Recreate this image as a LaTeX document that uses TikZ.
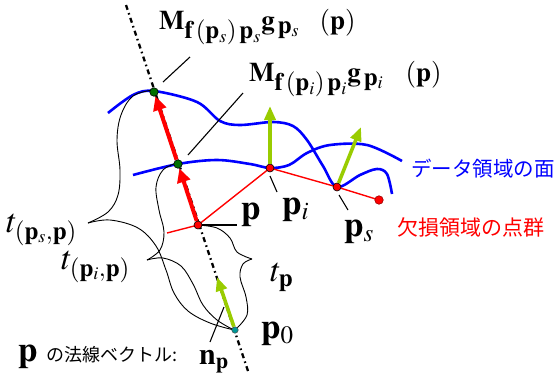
\documentclass[tikz,border=0pt]{standalone}
\usepackage{mathptmx}
\usepackage[no-math]{fontspec}
\newfontfamily\jpfont{Noto Sans CJK JP}
\DeclareMathSizes{27}{27}{25}{18}
\DeclareMathSizes{35}{35}{25}{18}
\DeclareMathSizes{34}{34}{25}{18}
\usetikzlibrary{arrows.meta}
\pgfdeclarelayer{bg}
\pgfsetlayers{bg,main}
\definecolor{dblue}{RGB}{0,0,255}
\definecolor{ygreen}{RGB}{153,204,0}
\definecolor{dgreen}{RGB}{0,110,0}
\definecolor{tealdot}{RGB}{0,150,150}
\begin{document}
\begin{tikzpicture}[x=1pt,y=-1pt,
  gdot/.style={circle,draw=black,fill=dgreen,inner sep=0pt,minimum size=8.5pt,line width=0.6pt},
  rdot/.style={circle,draw=black,fill=red,inner sep=0pt,minimum size=8pt,line width=0.6pt},
  edot/.style={circle,draw=red!60!black,fill=red,inner sep=0pt,minimum size=8.5pt,line width=0.6pt},
  tdot/.style={circle,draw=black!70,fill=tealdot,inner sep=0pt,minimum size=6.5pt,line width=0.5pt},
  bluec/.style={draw=dblue,line width=2.6pt},
  redl/.style={draw=red,line width=1.4pt},
  bracec/.style={draw=black,line width=0.9pt},
  leader/.style={draw=black,line width=1.1pt},
  dashdotl/.style={draw=black,line width=2.3pt,dash pattern=on 5pt off 3.5pt on 1.6pt off 3.5pt},
  redarr/.style={draw=red,line width=4pt,-{Triangle[length=14pt,width=13pt]}},
  grarr/.style={draw=ygreen,line width=3.6pt,-{Triangle[length=14pt,width=11pt]}},
  lab/.style={inner sep=0pt,font=\fontsize{27}{30}\selectfont},
  plab/.style={inner sep=0pt,font=\fontsize{35}{38}\selectfont},
  tlab/.style={inner sep=0pt,font=\fontsize{34}{38}\selectfont},
  jlab/.style={inner sep=0pt,font=\jpfont\fontsize{20.5}{24}\selectfont}
]
\useasboundingbox (0,0) rectangle (557,381);
% points
\node[gdot] (Ms) at (154,92) {};
\node[gdot] (Mi) at (178,164) {};
\node[rdot] (P) at (198,225) {};
\node[rdot] (Pi) at (270,168) {};
\node[rdot] (Ps) at (337,187) {};
\node[edot] (Pe) at (379,200) {};
\node[tdot] (P0) at (235,330) {};
\coordinate (Ltop) at (126,5);
\coordinate (Lbot) at (249,374);
\coordinate (Pl) at (167,233);
\coordinate (NpTip) at (217,277);
\coordinate (NiTip) at (270,106);
\coordinate (NsTip) at (361,127);

\begin{pgfonlayer}{bg}
\draw[dashdotl] (Ltop) -- (Lbot);
\draw[bluec] plot[smooth,tension=0.55] coordinates {(108,113) (133,95) (154,91) (197,102) (220,121) (240,125) (273,122) (293,126) (307,140) (323,166) (337,187) (360,175) (377,169) (387,174) (392,194)};
\draw[bluec] plot[smooth,tension=0.55] coordinates {(133,175) (178,164) (217,160) (250,164) (270,168) (289,165) (307,153) (330,145) (367,145) (402,161)};
\draw[redl] (Pl) -- (P.center) -- (Pi.center) -- (Ps.center) -- (Pe.center);
% braces
\draw[bracec] plot[smooth,tension=0.6] coordinates {(153,90) (133,96) (121,115) (117,140) (120,170) (118,195) (108,212) (88,223)};
\draw[bracec] plot[smooth,tension=0.6] coordinates {(88,223) (110,220) (138,228) (156,246) (166,270) (174,293) (188,311) (210,323) (234,330)};
\draw[bracec] plot[smooth,tension=0.6] coordinates {(177,163) (163,170) (156,187) (159,210) (164,232) (160,250) (147,260)};
\draw[bracec] plot[smooth,tension=0.6] coordinates {(147,260) (163,258) (181,266) (193,284) (203,305) (217,320) (234,330)};
\draw[bracec] plot[smooth,tension=0.6] coordinates {(198,225) (217,228) (230,238) (237,252) (252,259)};
\draw[bracec] plot[smooth,tension=0.6] coordinates {(252,259) (243,264) (240,277) (246,297) (247,315) (236,329)};
\end{pgfonlayer}

% arrows
\draw[redarr] (P) -- (Mi);
\draw[redarr] (Mi) -- (Ms);
\draw[grarr] (P0) -- (NpTip);
\draw[grarr] (Pi) -- (NiTip);
\draw[grarr] (Ps) -- (NsTip);

% labels
\node[lab,anchor=base west] (Lms) at (159,29) {$\mathbf{M}_{\mathbf{f}\,(\mathbf{p}_s)\,\mathbf{p}_s}\mathbf{g}\,_{\mathbf{p}_s}\hspace{20pt}(\mathbf{p})$};
\node[lab,anchor=base west] (Lmi) at (249,81) {$\mathbf{M}_{\mathbf{f}\,(\mathbf{p}_i)\,\mathbf{p}_i}\mathbf{g}\,_{\mathbf{p}_i}\hspace{22pt}(\mathbf{p})$};
\node[plab,anchor=base west] (Lp) at (241,219) {$\mathbf{p}$};
\node[plab,anchor=base west] (Lpi) at (282,214) {$\mathbf{p}_i$};
\node[plab,anchor=base west] (Lps) at (344,236) {$\mathbf{p}_s$};
\node[plab,anchor=base west] (Lp0) at (261,338) {$\mathbf{p}_0$};
\node[tlab,anchor=base west] (Ltp) at (270,281) {$t_{\mathbf{p}}$};
\node[tlab,anchor=base west] (Ltps) at (6,232) {$t_{(\mathbf{p}_s,\mathbf{p})}$};
\node[tlab,anchor=base west] (Ltpi) at (61,269) {$t_{(\mathbf{p}_i,\mathbf{p})}$};
\node[plab,anchor=base west] (Lpn) at (18,361) {$\mathbf{p}$};
\node[inner sep=0pt,anchor=west,font=\jpfont\fontsize{18}{22}\selectfont] (Ljp) at (46,355) {の法線ベクトル:};
\node[plab,anchor=base west,font=\fontsize{30}{34}\selectfont] (Lnp) at (199,364) {$\mathbf{n}_{\mathbf{p}}$};
\node[jlab,anchor=west,text=dblue] (Lsurf) at (411,169) {データ領域の面};
\node[jlab,anchor=west,text=red,font=\jpfont\fontsize{21}{24}\selectfont] (Lpts) at (397,227) {欠損領域の点群};

% leader lines
\draw[leader] (163,82) -- (190,57);
\draw[leader] (188,155) -- (243,93);
\draw[leader] (P.east) -- (237,225);
\draw[leader] (270,176) -- (277,192);
\draw[leader] (339,195) -- (348,210);
\draw[leader] (224,307) -- (210,342);
\end{tikzpicture}
\end{document}
